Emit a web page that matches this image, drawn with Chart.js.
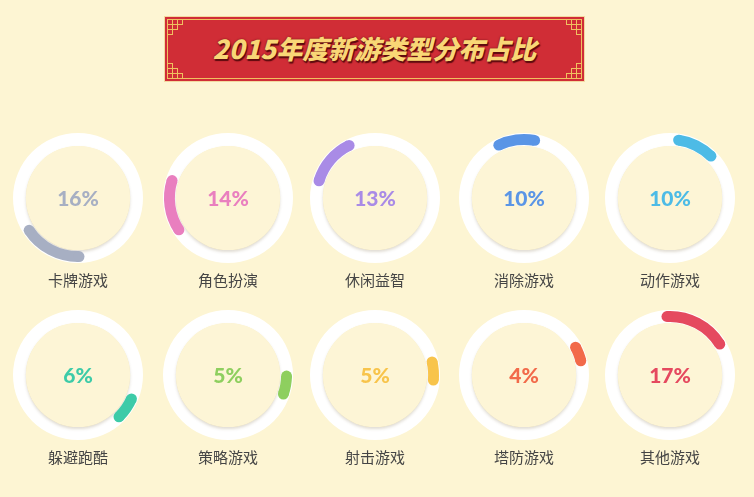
<!DOCTYPE html>
<html>
<head>
<meta charset="utf-8">
<script src="https://cdn.jsdelivr.net/npm/chart.js@4.4.1/dist/chart.umd.min.js"></script>
<style>
body { margin: 0; background: #fdf5d3; width: 754px; height: 497px; overflow: hidden; font-family: "Noto Sans CJK SC", sans-serif; }
#banner { position: absolute; left: 164px; top: 16px; width: 421px; height: 66px; }
#banner svg { position: absolute; left: 0; top: 0; }
#banner .t { position: absolute; left: 0; top: 0; width: 100%; line-height: 64px; text-align: center;
  font-size: 26px; font-weight: 900; font-style: italic; color: #f9d776;
  text-shadow: 0 0 2px #6b0f12, 1px 2px 1px #5a0b0e; }
.cell { position: absolute; width: 150px; height: 190px; }
.cell canvas { display: block; }
.cell .lb { position: absolute; left: 0; top: 146px; width: 150px; text-align: center; font-size: 15px; color: #454545; }
</style>
</head>
<body>
<div id="banner">
  <svg width="421" height="66" id="bsvg"></svg>
  <div class="t">2015年度新游类型分布占比</div>
</div>
<div id="grid"></div>
<script>
// game types and their share (%)
const categories = ["卡牌游戏", "角色扮演", "休闲益智", "消除游戏", "动作游戏",
                    "躲避跑酷", "策略游戏", "射击游戏", "塔防游戏", "其他游戏"];
const shares = [16, 14, 13, 10, 10, 6, 5, 5, 4, 17];
// where each arc starts (degrees, clockwise from top)
const startAngles = [179, 237, 287, 334.5, 8.4, 114, 91, 77, 61.6, 357];
const colors = ["#a7afc3", "#e97fbf", "#a98be6", "#5a95e6", "#4dbbe6",
                "#3dcba8", "#8ecf5f", "#f8c44b", "#f26a4a", "#e5495f"];

const centersX = [78, 228, 375, 524, 670];
const centersY = [198, 375];

// banner frame + corner lattice
(function () {
  const svg = document.getElementById("bsvg");
  let s = '<rect x="0.5" y="0.5" width="420" height="65" fill="#d02d36" stroke="#f3d9a0" stroke-width="1"/>';
  s += '<rect x="3.5" y="3.5" width="414" height="59" fill="none" stroke="#f0c060" stroke-width="1"/>';
  const c = 5;
  const rows = [3, 2, 1];
  function lattice(flipX, flipY) {
    rows.forEach((n, r) => {
      for (let i = 0; i < n; i++) {
        let x = 3.5 + i * c, y = 3.5 + r * c;
        if (flipX) x = 417.5 - (i + 1) * c;
        if (flipY) y = 62.5 - (r + 1) * c;
        s += '<rect x="' + x + '" y="' + y + '" width="' + c + '" height="' + c + '" fill="none" stroke="#f0c060" stroke-width="1"/>';
      }
    });
  }
  lattice(false, false); lattice(true, false); lattice(false, true); lattice(true, true);
  svg.innerHTML = s;
})();

const ringPlugin = {
  id: "ring",
  beforeDatasetsDraw(chart) {
    const arc = chart.getDatasetMeta(0).data[0];
    const p = arc.getProps(["x", "y", "innerRadius", "outerRadius"], true);
    const ctx = chart.ctx;
    ctx.save();
    ctx.beginPath();
    ctx.arc(p.x, p.y, p.outerRadius + 1, 0, Math.PI * 2);
    ctx.arc(p.x, p.y, p.innerRadius - 1, 0, Math.PI * 2, true);
    ctx.fillStyle = "#ffffff";
    ctx.fill();
    ctx.beginPath();
    ctx.arc(p.x, p.y, p.innerRadius - 1, 0, Math.PI * 2);
    ctx.shadowColor = "rgba(120,100,60,0.22)";
    ctx.shadowBlur = 3;
    ctx.shadowOffsetY = 2;
    ctx.fillStyle = "#fdf5d6";
    ctx.fill();
    ctx.restore();
  },
  afterDatasetsDraw(chart) {
    const arc = chart.getDatasetMeta(0).data[0];
    const p = arc.getProps(["x", "y", "innerRadius", "outerRadius", "startAngle", "endAngle"], true);
    const o = chart.options.plugins.ring;
    const ctx = chart.ctx;
    ctx.save();
    // round caps at both ends of the arc
    const mid = (p.innerRadius + p.outerRadius) / 2;
    const cap = (p.outerRadius - p.innerRadius) / 2;
    ctx.fillStyle = o.color;
    [p.startAngle, p.endAngle].forEach(a => {
      ctx.beginPath();
      ctx.arc(p.x + mid * Math.cos(a), p.y + mid * Math.sin(a), cap, 0, Math.PI * 2);
      ctx.fill();
    });
    ctx.font = "900 21px Lato";
    ctx.textAlign = "center";
    ctx.textBaseline = "middle";
    ctx.fillText(o.text, p.x, p.y + 1);
    ctx.restore();
  }
};

const grid = document.getElementById("grid");
categories.forEach((cat, i) => {
  const cx = centersX[i % 5], cy = centersY[Math.floor(i / 5)];
  const cell = document.createElement("div");
  cell.className = "cell";
  cell.style.left = (cx - 75) + "px";
  cell.style.top = (cy - 75) + "px";
  const canvas = document.createElement("canvas");
  canvas.width = 150;
  canvas.height = 150;
  const lb = document.createElement("div");
  lb.className = "lb";
  lb.innerText = cat;
  cell.appendChild(canvas);
  cell.appendChild(lb);
  grid.appendChild(cell);

  new Chart(canvas, {
    type: "doughnut",
    data: {
      labels: [cat, ""],
      datasets: [{
        data: [shares[i], 100 - shares[i]],
        backgroundColor: [colors[i], "rgba(0,0,0,0)"],
        borderWidth: 0
      }]
    },
    options: {
      responsive: false,
      animation: false,
      events: [],
      rotation: startAngles[i],
      cutout: "83%",
      layout: { padding: 11 },
      plugins: {
        legend: { display: false },
        tooltip: { enabled: false },
        ring: { text: shares[i] + "%", color: colors[i] }
      }
    },
    plugins: [ringPlugin]
  });
});
</script>
</body>
</html>
